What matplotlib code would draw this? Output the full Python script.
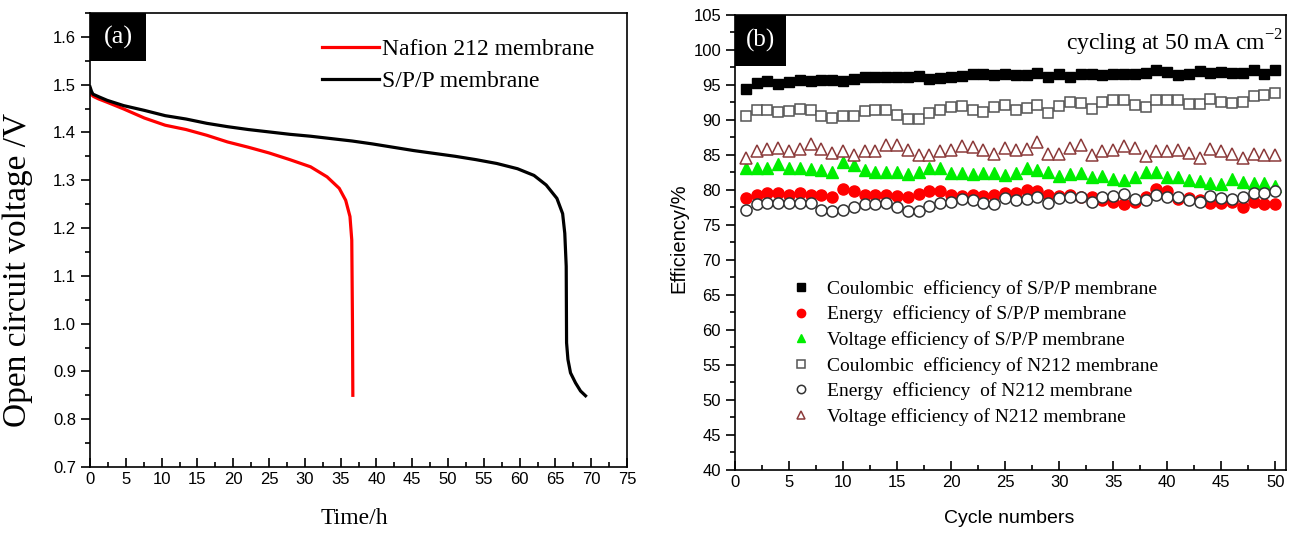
import matplotlib
matplotlib.use('Agg')
import matplotlib.pyplot as plt
from matplotlib.ticker import MultipleLocator
from matplotlib.patches import Rectangle

# police par defaut (chiffres des axes) : type Arial
plt.rcParams['font.family'] = 'Liberation Sans'
SERIF = 'Liberation Serif'

# ---------- (a) tension de circuit ouvert ----------
nafion_t = [0, 0.1, 0.5, 1.2, 2.4, 4.7, 7.6, 10.5, 13.4, 16.3, 19.2, 22.1, 25.0, 27.9,
            30.8, 33.1, 34.8, 35.7, 36.3, 36.55, 36.65, 36.7]
nafion_v = [1.49, 1.48, 1.475, 1.47, 1.463, 1.449, 1.43, 1.415, 1.406, 1.394, 1.38, 1.369,
            1.357, 1.343, 1.328, 1.307, 1.283, 1.258, 1.224, 1.175, 1.0, 0.85]

spp_t = [0, 0.2, 0.4, 1.3, 2.4, 4.7, 7.6, 10.5, 13.4, 16.3, 19.2, 22.1, 25.0, 27.9, 30.8,
         33.7, 36.6, 39.4, 42.3, 45.2, 48.1, 51.0, 53.9, 56.8, 59.7, 62.0, 63.7, 65.2,
         66.0, 66.3, 66.5, 66.55, 66.74, 67.1, 67.8, 68.5, 69.2]
spp_v = [1.495, 1.486, 1.48, 1.474, 1.467, 1.456, 1.446, 1.435, 1.428, 1.419, 1.412, 1.406,
         1.401, 1.396, 1.392, 1.387, 1.382, 1.376, 1.369, 1.362, 1.356, 1.35, 1.343, 1.335,
         1.324, 1.31, 1.29, 1.262, 1.23, 1.189, 1.12, 0.96, 0.925, 0.897, 0.876, 0.859, 0.849]

# ---------- (b) efficacites par cycle ----------
cycles = list(range(1, 51))
spp_ce = [94.4, 95.3, 95.6, 95.1, 95.4, 95.7, 95.6, 95.7, 95.7, 95.6, 95.8, 96.1, 96.2, 96.1,
          96.1, 96.2, 96.3, 95.9, 96.0, 96.1, 96.3, 96.6, 96.5, 96.4, 96.5, 96.4, 96.4, 96.7,
          96.2, 96.6, 96.2, 96.6, 96.6, 96.4, 96.6, 96.6, 96.6, 96.7, 97.2, 96.8, 96.4, 96.6,
          97.0, 96.7, 96.9, 96.7, 96.7, 97.1, 96.6, 97.1]
spp_ee = [78.8, 79.3, 79.5, 79.5, 79.3, 79.6, 79.3, 79.3, 79.0, 80.1, 79.9, 79.3, 79.3, 79.3,
          79.1, 79.0, 79.4, 79.8, 79.8, 79.3, 79.1, 79.3, 79.1, 79.3, 79.5, 79.5, 80.0, 79.9,
          79.3, 79.1, 79.3, 79.0, 79.0, 78.6, 78.3, 78.0, 78.3, 79.0, 80.1, 79.8, 78.7, 78.8,
          78.5, 78.2, 78.1, 78.3, 77.6, 78.3, 78.0, 78.0]
spp_ve = [83.2, 83.2, 83.2, 83.7, 83.2, 83.2, 83.0, 82.9, 82.6, 84.0, 83.6, 82.9, 82.5, 82.6,
          82.6, 82.3, 82.6, 83.2, 83.1, 82.4, 82.4, 82.3, 82.4, 82.4, 82.1, 82.4, 83.1, 82.9,
          82.5, 82.0, 82.3, 82.4, 81.9, 82.0, 81.5, 81.4, 81.9, 82.5, 82.5, 81.8, 81.9, 81.4,
          81.3, 81.0, 80.9, 81.5, 81.2, 81.0, 81.0, 80.6]
n212_ce = [90.5, 91.4, 91.4, 91.2, 91.3, 91.6, 91.4, 90.5, 90.3, 90.5, 90.6, 91.3, 91.4, 91.4,
           90.7, 90.1, 90.2, 91.0, 91.4, 91.8, 92.0, 91.4, 91.2, 91.8, 92.1, 91.4, 91.7, 92.1,
           91.0, 92.0, 92.6, 92.4, 91.5, 92.5, 92.8, 92.9, 92.1, 91.9, 92.8, 92.8, 92.8, 92.3,
           92.3, 93.0, 92.5, 92.4, 92.6, 93.4, 93.6, 93.8]
n212_ee = [77.1, 78.0, 78.1, 78.2, 78.1, 78.1, 78.1, 77.2, 77.0, 77.2, 77.5, 78.0, 78.0, 78.2,
           77.6, 77.0, 77.0, 77.7, 78.2, 78.3, 78.7, 78.6, 78.1, 78.0, 78.8, 78.5, 78.7, 79.0,
           78.1, 78.8, 79.0, 79.0, 78.3, 79.0, 79.1, 79.4, 78.7, 78.5, 79.3, 79.0, 79.0, 78.5,
           78.3, 79.1, 78.8, 78.7, 79.0, 79.5, 79.6, 79.8]
n212_ve = [84.5, 85.6, 85.8, 86.0, 85.6, 85.8, 86.6, 85.8, 85.3, 85.6, 85.0, 85.5, 85.5, 86.4,
           86.4, 85.7, 85.0, 85.0, 85.6, 85.7, 86.3, 86.1, 85.7, 85.1, 86.0, 85.7, 85.8, 86.9,
           85.1, 85.2, 86.0, 86.4, 85.0, 85.6, 85.7, 86.3, 86.0, 84.8, 85.6, 85.6, 85.7, 85.3,
           84.5, 85.8, 85.5, 85.2, 84.5, 85.1, 85.0, 85.0]

fig = plt.figure(figsize=(12.94, 5.33), dpi=100)
ax1 = fig.add_axes([0.0696, 0.1238, 0.415, 0.852])
ax2 = fig.add_axes([0.568, 0.1182, 0.4258, 0.8537])


def style_axes(ax):
    for s in ax.spines.values():
        s.set_linewidth(1.2)
    ax.tick_params(axis='x', which='both', direction='in', top=False, width=1.2)
    ax.tick_params(axis='y', which='both', direction='out', right=False, width=1.2)
    ax.tick_params(which='major', length=6.5, labelsize=12)
    ax.tick_params(which='minor', length=3.5)


# ---- panneau (a) ----
ax1.plot(nafion_t, nafion_v, color='#ff0000', lw=2.3, label='Nafion 212 membrane')
ax1.plot(spp_t, spp_v, color='black', lw=2.3, label='S/P/P membrane')
ax1.set_xlim(0, 75)
ax1.set_ylim(0.7, 1.65)
ax1.xaxis.set_major_locator(MultipleLocator(5))
ax1.xaxis.set_minor_locator(MultipleLocator(2.5))
ax1.set_yticks([0.7, 0.8, 0.9, 1.0, 1.1, 1.2, 1.3, 1.4, 1.5, 1.6])
ax1.yaxis.set_minor_locator(MultipleLocator(0.05))
style_axes(ax1)
ax1.set_xlabel('Time/h', family=SERIF, fontsize=17)
ax1.xaxis.set_label_coords(0.493, -0.09)
ax1.set_ylabel('Open circuit voltage /V', family=SERIF, fontsize=24)
ax1.yaxis.set_label_coords(-0.106, 0.434)
ax1.legend(loc='upper left', bbox_to_anchor=(0.432, 0.944), frameon=False,
           prop={'family': SERIF, 'size': 17}, handlelength=2.4, handletextpad=0.15,
           labelspacing=0.45, borderpad=0, borderaxespad=0)
ax1.add_patch(Rectangle((0, 0.895), 0.104, 0.105, transform=ax1.transAxes,
                        facecolor='black', edgecolor='none', zorder=5))
ax1.text(0.052, 0.946, '(a)', transform=ax1.transAxes, color='white', family=SERIF,
         fontsize=19, ha='center', va='center', zorder=6)

# ---- panneau (b) ----
ms = 7.5
ax2.plot(cycles, spp_ce, 's', color='black', ms=ms,
         label='Coulombic  efficiency of S/P/P membrane')
ax2.plot(cycles, spp_ee, 'o', color='#ff0000', mec='#ff0000', ms=ms + 0.5,
         label='Energy  efficiency of S/P/P membrane')
ax2.plot(cycles, spp_ve, '^', color='#00ee00', mec='#00ee00', ms=ms + 1,
         label='Voltage efficiency of S/P/P membrane')
ax2.plot(cycles, n212_ce, 's', mfc='white', mec='#555555', mew=1.1, ms=ms,
         label='Coulombic  efficiency of N212 membrane')
ax2.plot(cycles, n212_ee, 'o', mfc='white', mec='#333333', mew=1.1, ms=ms + 0.5,
         label='Energy  efficiency  of N212 membrane')
ax2.plot(cycles, n212_ve, '^', mfc='white', mec='#8b3a3a', mew=1.1, ms=ms + 1,
         label='Voltage efficiency of N212 membrane')
ax2.set_xlim(0, 51)
ax2.set_ylim(40, 105)
ax2.set_xticks(range(0, 51, 5))
ax2.xaxis.set_minor_locator(MultipleLocator(2.5))
ax2.yaxis.set_major_locator(MultipleLocator(5))
ax2.yaxis.set_minor_locator(MultipleLocator(2.5))
style_axes(ax2)
ax2.set_xlabel('Cycle numbers', fontsize=14)
ax2.xaxis.set_label_coords(0.498, -0.088)
ax2.set_ylabel('Efficiency/%', fontsize=14.5)
ax2.yaxis.set_label_coords(-0.085, 0.51)
ax2.legend(loc='upper left', bbox_to_anchor=(0.1016, 0.418), frameon=False,
           prop={'family': SERIF, 'size': 14}, handlelength=1.0, handletextpad=0.85,
           labelspacing=0.4, borderpad=0, borderaxespad=0, markerscale=0.75)
ax2.add_patch(Rectangle((0, 0.888), 0.0926, 0.112, transform=ax2.transAxes,
                        facecolor='black', edgecolor='none', zorder=5))
ax2.text(0.0463, 0.944, '(b)', transform=ax2.transAxes, color='white', family=SERIF,
         fontsize=18, ha='center', va='center', zorder=6)
ax2.text(0.9946, 0.923, r'cycling at 50 mA cm$^{\mathregular{-2}}$', transform=ax2.transAxes,
         family=SERIF, fontsize=17, ha='right', va='baseline')

fig.savefig('out.png', dpi=100)
